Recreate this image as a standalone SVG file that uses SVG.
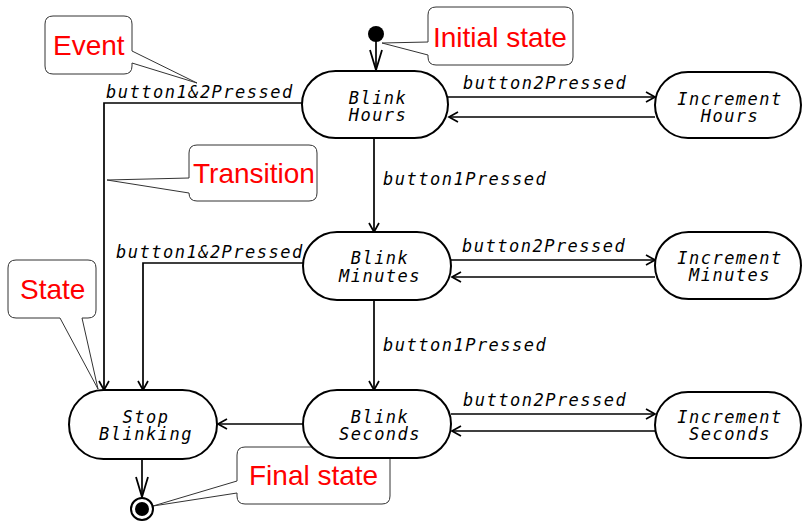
<svg xmlns="http://www.w3.org/2000/svg" width="802" height="521" viewBox="0 0 802 521">
  <style>
    .node { fill: #fff; stroke: #000; stroke-width: 2; }
    .edge { fill: none; stroke: #000; stroke-width: 1.7; }
    .lbl { font-family: "DejaVu Sans Mono", "Liberation Mono", monospace; font-style: italic; font-size: 17px; letter-spacing: 1.5px; fill: #000; }
    .nl { text-anchor: middle; }
    .note { fill: #fff; stroke: #333; stroke-width: 1; }
    .noteText { font-family: "Liberation Sans", Arial, sans-serif; font-size: 28px; fill: #f00; }
  </style>
  <defs>
    <marker id="arr" viewBox="-10 -6 12 12" refX="0" refY="0" markerWidth="12" markerHeight="12" markerUnits="userSpaceOnUse" orient="auto">
      <path d="M -9 -5 L 0 0 L -9 5" fill="none" stroke="#000" stroke-width="1.7"/>
    </marker>
    <marker id="arrBig" viewBox="-22 -8 24 16" refX="0" refY="0" markerWidth="24" markerHeight="16" markerUnits="userSpaceOnUse" orient="auto">
      <path d="M -20 -6 L 0 0 L -20 6" fill="none" stroke="#000" stroke-width="1.8"/>
    </marker>
  </defs>

  <rect width="802" height="521" fill="#fff"/>

  <!-- callouts -->
  <g id="note-event">
    <path class="note" d="M53 16 H124 Q132 16 132 24 V51 L197 83 L132 63 V66 Q132 74 124 74 H53 Q45 74 45 66 V24 Q45 16 53 16 Z"/>
    <text class="noteText" x="53" y="55">Event</text>
  </g>
  <g id="note-initial">
    <path class="note" d="M436 7 H565 Q573 7 573 15 V57 Q573 65 565 65 H436 Q428 65 428 57 V55 L382 43 L428 42 V15 Q428 7 436 7 Z"/>
    <text class="noteText" x="433" y="47">Initial state</text>
  </g>
  <g id="note-transition">
    <path class="note" d="M197 145 H309 Q317 145 317 153 V193 Q317 201 309 201 H197 Q189 201 189 193 L107 180 L189 178 V153 Q189 145 197 145 Z"/>
    <text class="noteText" x="193" y="183">Transition</text>
  </g>
  <g id="note-state">
    <path class="note" d="M16 260 H88 Q96 260 96 268 V310 Q96 318 88 318 H82 L98 389 L60 318 H16 Q8 318 8 310 V268 Q8 260 16 260 Z"/>
    <text class="noteText" x="20" y="299">State</text>
  </g>
  <g id="note-final">
    <path class="note" d="M245 447 H382 Q390 447 390 455 V496 Q390 504 382 504 H245 Q237 504 237 496 V493 L153 506 L237 481 V455 Q237 447 245 447 Z"/>
    <text class="noteText" x="249" y="485">Final state</text>
  </g>

  <!-- transitions -->
  <g id="connectors">
    <line class="edge" x1="376" y1="41" x2="376" y2="70" marker-end="url(#arrBig)"/>
    <line class="edge" x1="448" y1="97" x2="655" y2="97" marker-end="url(#arr)"/>
    <line class="edge" x1="655" y1="117" x2="449" y2="117" marker-end="url(#arr)"/>
    <line class="edge" x1="374" y1="138" x2="374" y2="232" marker-end="url(#arr)"/>
    <polyline class="edge" points="302,103 104,103 104,390" marker-end="url(#arr)"/>
    <line class="edge" x1="451" y1="260" x2="655" y2="260" marker-end="url(#arr)"/>
    <line class="edge" x1="655" y1="277" x2="452" y2="277" marker-end="url(#arr)"/>
    <line class="edge" x1="374" y1="300" x2="374" y2="390" marker-end="url(#arr)"/>
    <polyline class="edge" points="303,263 143,263 143,390" marker-end="url(#arr)"/>
    <line class="edge" x1="451" y1="414" x2="655" y2="414" marker-end="url(#arr)"/>
    <line class="edge" x1="655" y1="431" x2="452" y2="431" marker-end="url(#arr)"/>
    <line class="edge" x1="303" y1="424" x2="218" y2="424" marker-end="url(#arr)"/>
    <line class="edge" x1="142" y1="459" x2="142" y2="497" marker-end="url(#arrBig)"/>

    <text class="lbl" x="106" y="98">button1&amp;2Pressed</text>
    <text class="lbl" x="463" y="89">button2Pressed</text>
    <text class="lbl" x="383" y="185">button1Pressed</text>
    <text class="lbl" x="116" y="258">button1&amp;2Pressed</text>
    <text class="lbl" x="462" y="252">button2Pressed</text>
    <text class="lbl" x="383" y="351">button1Pressed</text>
    <text class="lbl" x="463" y="406">button2Pressed</text>
  </g>

  <!-- states: two-line names share one text element -->
  <g id="initial">
    <circle cx="376" cy="34" r="8" fill="#000"/>
  </g>
  <g id="blink-hours">
    <rect class="node" x="302" y="71" width="146" height="67" rx="33.5"/>
    <text class="lbl nl"><tspan x="378" y="104">Blink</tspan><tspan x="378" y="121">Hours</tspan></text>
  </g>
  <g id="increment-hours">
    <rect class="node" x="655" y="72" width="146" height="66" rx="33"/>
    <text class="lbl nl"><tspan x="730" y="105">Increment</tspan><tspan x="730" y="122">Hours</tspan></text>
  </g>
  <g id="blink-minutes">
    <rect class="node" x="303" y="232" width="148" height="68" rx="34"/>
    <text class="lbl nl"><tspan x="380" y="264">Blink</tspan><tspan x="380" y="282">Minutes</tspan></text>
  </g>
  <g id="increment-minutes">
    <rect class="node" x="655" y="232" width="146" height="67" rx="33.5"/>
    <text class="lbl nl"><tspan x="730" y="264">Increment</tspan><tspan x="730" y="281">Minutes</tspan></text>
  </g>
  <g id="blink-seconds">
    <rect class="node" x="303" y="390" width="148" height="68" rx="34"/>
    <text class="lbl nl"><tspan x="380" y="423">Blink</tspan><tspan x="380" y="440">Seconds</tspan></text>
  </g>
  <g id="increment-seconds">
    <rect class="node" x="655" y="392" width="146" height="66" rx="33"/>
    <text class="lbl nl"><tspan x="730" y="423">Increment</tspan><tspan x="730" y="440">Seconds</tspan></text>
  </g>
  <g id="stop-blinking">
    <rect class="node" x="69" y="390" width="148" height="69" rx="34.5"/>
    <text class="lbl nl"><tspan x="146" y="423">Stop</tspan><tspan x="146" y="440">Blinking</tspan></text>
  </g>
  <g id="final">
    <circle cx="142" cy="509" r="11" fill="#fff" stroke="#000" stroke-width="2"/>
    <circle cx="142" cy="509" r="7" fill="#000"/>
  </g>
</svg>
